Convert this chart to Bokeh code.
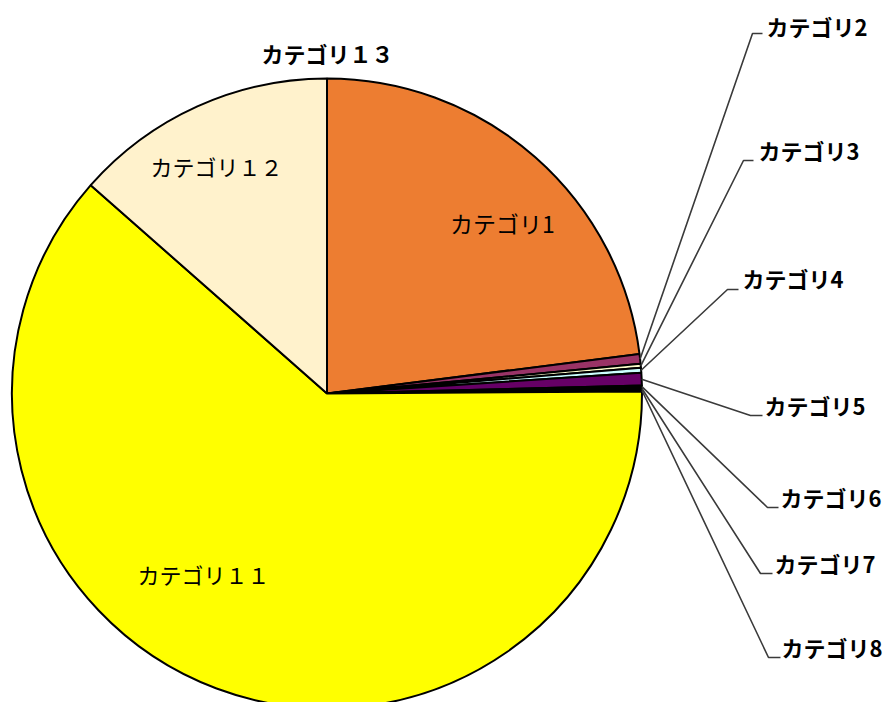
import math
from bokeh.plotting import figure
from bokeh.models import ColumnDataSource
from bokeh.core.properties import value
from bokeh.embed import file_html
from bokeh.resources import INLINE

# ---- data ----
categories = ["カテゴリ1", "カテゴリ2", "カテゴリ3", "カテゴリ4", "カテゴリ5",
              "カテゴリ6", "カテゴリ7", "カテゴリ8", "カテゴリ１１", "カテゴリ１２", "カテゴリ１３"]
values = [23.0, 0.5, 0.2, 0.25, 0.65, 0.1, 0.1, 0.1, 61.6, 13.5, 0.0]
colors = ["#ED7D31", "#993366", "#FFFFCC", "#CCFFFF", "#660066",
          "#FF8080", "#0066CC", "#CCCCFF", "#FFFF00", "#FFF2CC", "#00FFFF"]

# ---- layout (pixel coordinates of the reference picture) ----
W, H = 887, 702
def X(px): return px
def Y(py): return H - py

CX, CY, R = X(326.5), Y(393), 315.0

# outside labels: (category index, elbow x, elbow y, end x, text x, text y)
outside = [
    (1, 752, 33, 762, 766, 25),
    (2, 743, 160, 753, 758, 149),
    (3, 727, 289, 738, 742, 277),
    (4, 750, 415, 762, 764, 404),
    (5, 767, 507, 778, 780, 496),
    (6, 760, 573, 772, 774, 562),
    (7, 768, 657, 780, 781, 646),
]
# inside labels: (category index, x, y, size, style)
inside = [(0, 502, 222, "23px", "normal"), (8, 203, 573, "22px", "normal"),
          (9, 216, 165, "22px", "normal"), (10, 327, 52, "22px", "bold")]

total = sum(values)
starts, ends, mids = [], [], []
acc = 0.0
for v in values:
    a0 = math.pi / 2 - 2 * math.pi * acc / total
    acc += v
    a1 = math.pi / 2 - 2 * math.pi * acc / total
    starts.append(a0)
    ends.append(a1)
    mids.append((a0 + a1) / 2)

keep = [i for i, v in enumerate(values) if v > 0]
src = ColumnDataSource(dict(start=[starts[i] for i in keep], end=[ends[i] for i in keep],
                            color=[colors[i] for i in keep], cat=[categories[i] for i in keep]))

p = figure(width=W, height=H, x_range=(0, W), y_range=(0, H),
           output_backend="svg", toolbar_location=None,
           x_axis_location=None, y_axis_location=None, min_border=0)
p.grid.visible = False
p.outline_line_color = None
p.background_fill_color = "white"

p.wedge(x=CX, y=CY, radius=R, start_angle="end", end_angle="start",
        fill_color="color", line_color="black", line_width=2, source=src)

# leader lines
xs, ys = [], []
for i, ex, ey, endx, tx, ty in outside:
    sx = CX + R * math.cos(mids[i])
    sy = CY + R * math.sin(mids[i])
    xs.append([sx, X(ex), X(endx)])
    ys.append([sy, Y(ey), Y(ey)])
p.multi_line(xs=xs, ys=ys, line_color="#3a3a3a", line_width=1.6)

p.text(x=[X(o[4]) for o in outside], y=[Y(o[5]) for o in outside],
       text=[categories[o[0]] for o in outside],
       text_font=value("Noto Sans CJK JP"), text_font_size="22px",
       text_font_style="bold", text_align="left", text_baseline="middle",
       text_color="black")

isrc = ColumnDataSource(dict(x=[X(o[1]) for o in inside], y=[Y(o[2]) for o in inside],
                             t=[categories[o[0]] for o in inside],
                             size=[o[3] for o in inside], style=[o[4] for o in inside]))
p.text(x="x", y="y", text="t", source=isrc,
       text_font=value("Noto Sans CJK JP"), text_font_size="size",
       text_font_style="style",
       text_align="center", text_baseline="middle", text_color="black")

open("out.html", "w").write(file_html(p, INLINE))
